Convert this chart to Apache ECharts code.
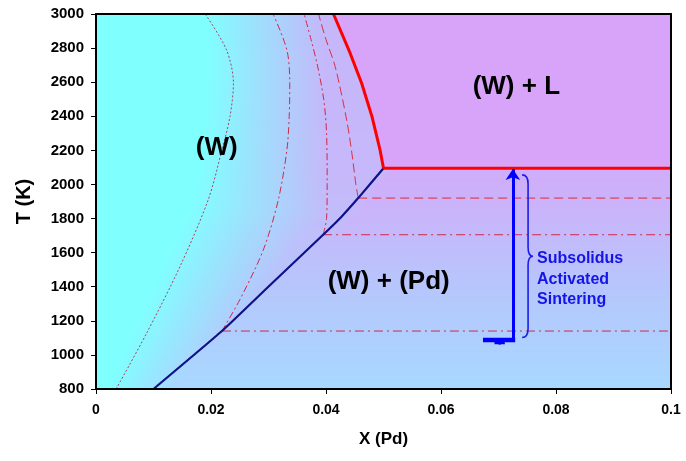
<!DOCTYPE html>
<html><head><meta charset="utf-8">
<script src="https://cdn.jsdelivr.net/npm/echarts@6/dist/echarts.min.js"></script>
<style>html,body{margin:0;padding:0;background:#fff}#c{width:686px;height:461px}</style>
</head><body><div id="c"></div>
<script>
// ---- axes ----
const X_MIN = 0, X_MAX = 0.1, X_STEP = 0.02;
const T_MIN = 800, T_MAX = 3000, T_STEP = 200;
// ---- phase boundaries ----
const eutecticT = 2095;
const liquidus = [[0.0413,3000],[0.0442,2770],[0.0462,2594],[0.0480,2398],[0.0494,2202],[0.0500,2095]];
const solvus = [[0.0500,2095],[0.0456,1920],[0.0427,1811],[0.0395,1705],[0.0297,1391],[0.0219,1140],[0.0100,800]];
// ---- iso-composition curves ----
const isoA = [[0.0035,800],[0.0088,1127],[0.0146,1518],[0.0195,1909],[0.0219,2202],[0.0233,2398],[0.0239,2594],[0.0227,2789],[0.0190,3000]];
const isoB = [[0.0219,1140],[0.0250,1323],[0.0291,1616],[0.0317,1909],[0.0332,2202],[0.0336,2398],[0.0337,2594],[0.0332,2789],[0.0308,3000]];
const isoC = [[0.0395,1705],[0.0401,1800],[0.0402,2000],[0.0401,2300],[0.0396,2500],[0.0385,2700],[0.0374,2850],[0.0362,3000]];
const isoD = [[0.0456,1920],[0.0452,2000],[0.0445,2183],[0.0436,2378],[0.0416,2691],[0.0400,2850],[0.0387,3000]];
const isoLevelT = [1920, 1705, 1140];
const isoLevelStartX = [0.0456, 0.0395, 0.0219];
// ---- annotation ----
const arrowX = 0.0725, arrowT = [1088, 2090];
const heaterBar = [[0.0673,1088],[0.0729,1088]];
const heaterFoot = [[0.0693,1072],[0.0711,1072]];
const heaterStem = [[0.0702,1088],[0.0702,1060]];
const brace = [0.0741, 2056, 1102];
const regionLabels = [
  {name:'(W)', value:[0.0210,2214]},
  {name:'(W) + L', value:[0.0731,2572]},
  {name:'(W) + (Pd)', value:[0.0509,1428]}
];
const noteLabel = {name:'Subsolidus\nActivated\nSintering', value:[0.0767,1443]};
// ---- background shading control ----
const shadeT   = [800, 1100, 1400, 1700, 1850, 2100, 2400, 2700, 3000];
const cyanEnd  = [0.002,0.006,0.010,0.014,0.0165,0.018,0.019,0.0195,0.019];
const blendEnd = [0.013,0.021,0.029,0.036,0.040,0.040,0.040,0.040,0.040];
const leftColT = [800, 1400, 1850, 2095, 3000];
const leftCol  = ['#A8D8FF','#B6C6FC','#C2BCFA','#C6B8FA','#C6B6FA'];
const rightColT = [800, 1400, 1850, 2095];
const rightCol  = ['#A8D8FF','#B6C6FC','#CAB4FA','#D0ACFA'];
const liquidColor = '#D8A4FA', cyanColor = '#80FFFF';

function interp(xs, ys, v){
  if (v <= xs[0]) return ys[0];
  for (let i=1;i<xs.length;i++){ if (v <= xs[i]) { const t=(v-xs[i-1])/(xs[i]-xs[i-1]); return ys[i-1]+t*(ys[i]-ys[i-1]); } }
  return ys[ys.length-1];
}
function hex2rgb(h){ return [parseInt(h.substr(1,2),16),parseInt(h.substr(3,2),16),parseInt(h.substr(5,2),16)]; }
function interpColor(xs, cs, v){
  const rgb = cs.map(hex2rgb);
  const ch = [0,1,2].map(k => Math.round(interp(xs, rgb.map(c=>c[k]), v)));
  return 'rgb(' + ch.join(',') + ')';
}
function boundaryX(pts, T){ // pts sorted by T descending
  const ts = pts.map(p=>p[1]).slice().reverse(), xs = pts.map(p=>p[0]).slice().reverse();
  return interp(ts, xs, T);
}
const SH = 5;
const strips = [];
for (let T = T_MIN + SH/2; T < T_MAX; T += SH) strips.push([T]);

function frac(x){ return Math.min(1, Math.max(0, (x - X_MIN)/(X_MAX - X_MIN))); }

function stripItem(params, api){
  const T = api.value(0);
  const tTop = Math.min(T_MAX, T + SH/2), tBot = Math.max(T_MIN, T - SH/2);
  const p0 = api.coord([X_MIN, tTop]), p1 = api.coord([X_MAX, tBot]);
  const c1 = frac(interp(shadeT, cyanEnd, T));
  const c2 = Math.max(c1 + 0.001, frac(interp(shadeT, blendEnd, T)));
  const lc = interpColor(leftColT, leftCol, T);
  let stops;
  if (T > eutecticT) {
    const xl = Math.max(c2, frac(boundaryX(liquidus, T)));
    stops = [{offset:0,color:cyanColor},{offset:c1,color:cyanColor},{offset:c2,color:lc},{offset:xl,color:lc},{offset:Math.min(1,xl+0.0005),color:liquidColor},{offset:1,color:liquidColor}];
  } else {
    const rc = interpColor(rightColT, rightCol, T);
    const xs = Math.max(c2, frac(boundaryX(solvus, T)));
    stops = [{offset:0,color:cyanColor},{offset:c1,color:cyanColor},{offset:c2,color:lc},{offset:xs,color:lc},{offset:Math.min(1,xs+0.02),color:rc},{offset:1,color:rc}];
  }
  return {type:'rect', shape:{x:p0[0], y:p0[1]-0.4, width:p1[0]-p0[0], height:p1[1]-p0[1]+0.8},
    style:{fill:new echarts.graphic.LinearGradient(0,0,1,0,stops)}};
}

function braceItem(params, api){
  const top = api.coord([api.value(0), api.value(1)]);
  const bot = api.coord([api.value(0), api.value(2)]);
  const x = top[0], y0 = top[1], y1 = bot[1], ym = (y0+y1)/2;
  const d = 'M'+x+' '+y0+' Q'+(x+6)+' '+y0+' '+(x+6)+' '+(y0+9)+' L'+(x+6)+' '+(ym-9)+
    ' Q'+(x+6)+' '+ym+' '+(x+11)+' '+ym+' Q'+(x+6)+' '+ym+' '+(x+6)+' '+(ym+9)+
    ' L'+(x+6)+' '+(y1-9)+' Q'+(x+6)+' '+y1+' '+x+' '+y1;
  return {type:'path', shape:{pathData:d}, style:{stroke:'#1C1CE8', lineWidth:1.6, fill:null}};
}

function lineSeries(data, color, width, type, smooth, z){
  return {type:'line', data:data, showSymbol:false, symbol:'none', smooth:smooth||false, silent:true, z:z||3,
    lineStyle:{color:color, width:width, type:type||'solid'}, animation:false};
}

const labelFont = 'Liberation Sans, Arial, sans-serif';
const series = [
  {type:'custom', data:strips, renderItem:stripItem, silent:true, z:1, animation:false},
  lineSeries(isoA, '#A04868', 1, [2,2], 0.3),
  lineSeries(isoB, '#D02848', 1, [7,3,2,3], 0.3),
  lineSeries(isoC, '#D02848', 1, [7,3,2,3], 0.3),
  lineSeries(isoD, '#D83040', 1, [9,4], 0.3),
  lineSeries([[isoLevelStartX[0],isoLevelT[0]],[X_MAX,isoLevelT[0]]], '#E02838', 1, [9,5]),
  lineSeries([[isoLevelStartX[1],isoLevelT[1]],[X_MAX,isoLevelT[1]]], '#D02848', 1, [9,4,2,4]),
  lineSeries([[isoLevelStartX[2],isoLevelT[2]],[X_MAX,isoLevelT[2]]], '#D02848', 1, [9,4,2,4]),
  lineSeries(solvus, '#10108A', 2.2, 'solid', 0.15, 4),
  lineSeries(liquidus, '#FF0000', 3, 'solid', false, 5),
  lineSeries([[0.0500,eutecticT],[X_MAX,eutecticT]], '#FF0000', 3, 'solid', false, 5),
  {type:'lines', coordinateSystem:'cartesian2d', silent:true, z:6, animation:false,
    symbol:['none','arrow'], symbolSize:11,
    lineStyle:{color:'#0000FF', width:3, opacity:1},
    data:[{coords:[[arrowX,arrowT[0]],[arrowX,arrowT[1]]]}]},
  lineSeries(heaterBar, '#0000FF', 4.5, 'solid', false, 6),
  lineSeries(heaterFoot, '#0000FF', 3, 'solid', false, 6),
  lineSeries(heaterStem, '#0000FF', 2, 'solid', false, 6),
  {type:'custom', data:[brace], renderItem:braceItem, silent:true, z:6, animation:false},
  {type:'scatter', data:regionLabels, symbolSize:0, silent:true, z:7, animation:false,
    itemStyle:{opacity:1},
    label:{show:true, position:'inside', formatter:'{b}', color:'#000', opacity:1, fontSize:26, fontWeight:'bold', fontFamily:labelFont}},
  {type:'scatter', data:[noteLabel], symbolSize:0, silent:true, z:7, animation:false,
    itemStyle:{opacity:1},
    label:{show:true, position:'inside', align:'left', verticalAlign:'middle', formatter:'{b}', color:'#1414E6', opacity:1, fontSize:16, lineHeight:20.5, fontWeight:'bold', fontFamily:labelFont}}
];

const axisFont = {color:'#000', fontWeight:'bold', fontFamily:labelFont};
const chart = echarts.init(document.getElementById('c'), null, {renderer:'canvas'});
chart.setOption({
  animation:false,
  backgroundColor:'#fff',
  grid:{left:96, right:15, top:14, bottom:72, show:false},
  xAxis:[{type:'value', min:X_MIN, max:X_MAX, interval:X_STEP, z:10,
    name:'X (Pd)', nameLocation:'middle', nameGap:42, nameTextStyle:Object.assign({fontSize:17}, axisFont),
    axisLine:{show:true, onZero:false, lineStyle:{color:'#000', width:2}},
    axisTick:{show:true, inside:false, length:5, lineStyle:{color:'#000', width:1}},
    axisLabel:Object.assign({fontSize:14, margin:14, formatter:v => String(+v.toFixed(4))}, axisFont),
    splitLine:{show:false}},
   {type:'value', position:'top', min:X_MIN, max:X_MAX, z:10,
    axisLine:{show:true, onZero:false, lineStyle:{color:'#000', width:2}},
    axisTick:{show:false}, axisLabel:{show:false}, splitLine:{show:false}}],
  yAxis:[{type:'value', min:T_MIN, max:T_MAX, interval:T_STEP, z:10,
    name:'T (K)', nameLocation:'middle', nameGap:62, nameRotate:90, nameTextStyle:Object.assign({fontSize:20}, axisFont),
    axisLine:{show:true, onZero:false, lineStyle:{color:'#000', width:2}},
    axisTick:{show:true, inside:false, length:5, lineStyle:{color:'#000', width:1}},
    axisLabel:Object.assign({fontSize:15, margin:12, formatter:v => String(v)}, axisFont),
    splitLine:{show:false}},
   {type:'value', position:'right', min:T_MIN, max:T_MAX, z:10,
    axisLine:{show:true, onZero:false, lineStyle:{color:'#000', width:2}},
    axisTick:{show:false}, axisLabel:{show:false}, splitLine:{show:false}}],
  series:series
});
</script></body></html>
